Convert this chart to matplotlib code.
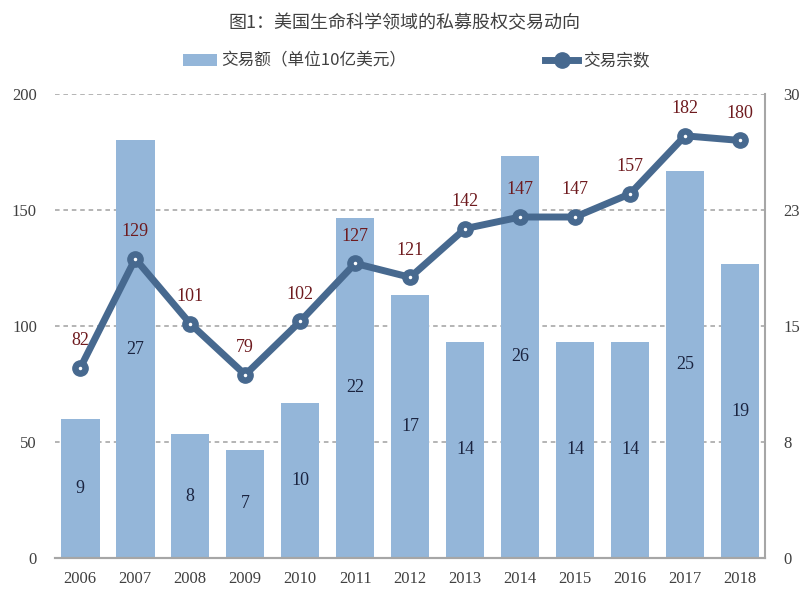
import numpy as np
from matplotlib import pyplot as plt

years = ["2006", "2007", "2008", "2009", "2010", "2011", "2012",
         "2013", "2014", "2015", "2016", "2017", "2018"]
# 交易额（单位10亿美元）- 右轴
deal_value = [9, 27, 8, 7, 10, 22, 17, 14, 26, 14, 14, 25, 19]
# 交易宗数 - 左轴
deal_count = [82, 129, 101, 79, 102, 127, 121, 142, 147, 147, 157, 182, 180]

left_ticks = [0, 50, 100, 150, 200]
right_ticks = [0, 7.5, 15, 22.5, 30]
right_ticklabels = ["0", "8", "15", "23", "30"]

bar_color = "#94B6D9"
line_color = "#47698F"
serif = ["Liberation Serif", "Noto Sans CJK SC"]
cjk = ["Noto Sans CJK SC", "DejaVu Sans"]

fig = plt.figure(figsize=(8.09, 6.01), dpi=100)
ax = fig.add_axes([0.068, 0.0715, 0.878, 0.772])
ax2 = ax.twinx()
x = np.arange(len(years))

# 柱状图 (右轴 0-30)
bars = ax.bar(x, deal_value, width=0.7, color=bar_color, zorder=2,
              label="交易额（单位10亿美元）")
for xi, v in zip(x, deal_value):
    ax.text(xi, v / 2, str(v), ha="center", va="center", fontsize=13,
            color="#1B2440", family=serif, zorder=3)
ax.set_ylim(0, 30)
ax.set_yticks(right_ticks)
ax.set_yticklabels(right_ticklabels)
ax.yaxis.tick_right()
ax.set_xlim(-0.46, 12.46)
ax.set_xticks(x)
ax.set_xticklabels(years)
ax.grid(axis="y", linestyle=(0, (3, 2.5)), color="#A0A0A0", linewidth=1.1, zorder=0)

# 折线 (左轴 0-200)
line, = ax2.plot(x, deal_count, color=line_color, linewidth=5, marker="o",
                 markersize=11, markerfacecolor=line_color, markeredgecolor=line_color,
                 zorder=4, label="交易宗数")
ax2.plot(x, deal_count, linestyle="none", marker="o", markersize=1.5,
         color="white", zorder=5)
for xi, v in zip(x, deal_count):
    ax2.text(xi, v + 8, str(v), ha="center", va="bottom", fontsize=13,
             color="#6E1A1E", family=serif, zorder=6)
ax2.set_ylim(0, 200)
ax2.set_yticks(left_ticks)
ax2.yaxis.tick_left()

for a in (ax, ax2):
    for s in ("top", "left", "right"):
        a.spines[s].set_visible(False)
    a.spines["bottom"].set_color("#A6A6A6")
    a.spines["bottom"].set_linewidth(1.5)
    a.tick_params(length=0, labelsize=12, colors="#404040", labelfontfamily="Liberation Serif")
ax2.spines["right"].set_visible(True)
ax2.spines["right"].set_color("#A6A6A6")
ax2.spines["right"].set_linewidth(1.5)
ax.tick_params(axis="x", pad=9)
ax.tick_params(axis="y", pad=13)
ax2.tick_params(axis="y", pad=13)

fig.text(0.5, 0.962, "图1：美国生命科学领域的私募股权交易动向", ha="center", va="center",
         fontsize=13, color="#404040", family=cjk)
leg = fig.legend(handles=[bars, line], loc="center", bbox_to_anchor=(0.515, 0.898), ncol=2,
                 frameon=False, columnspacing=8.3, handlelength=2.0, handletextpad=0.3,
                 prop={"family": cjk, "size": 12})
for t in leg.get_texts():
    t.set_color("#404040")

fig.savefig("out.png", dpi=100)
